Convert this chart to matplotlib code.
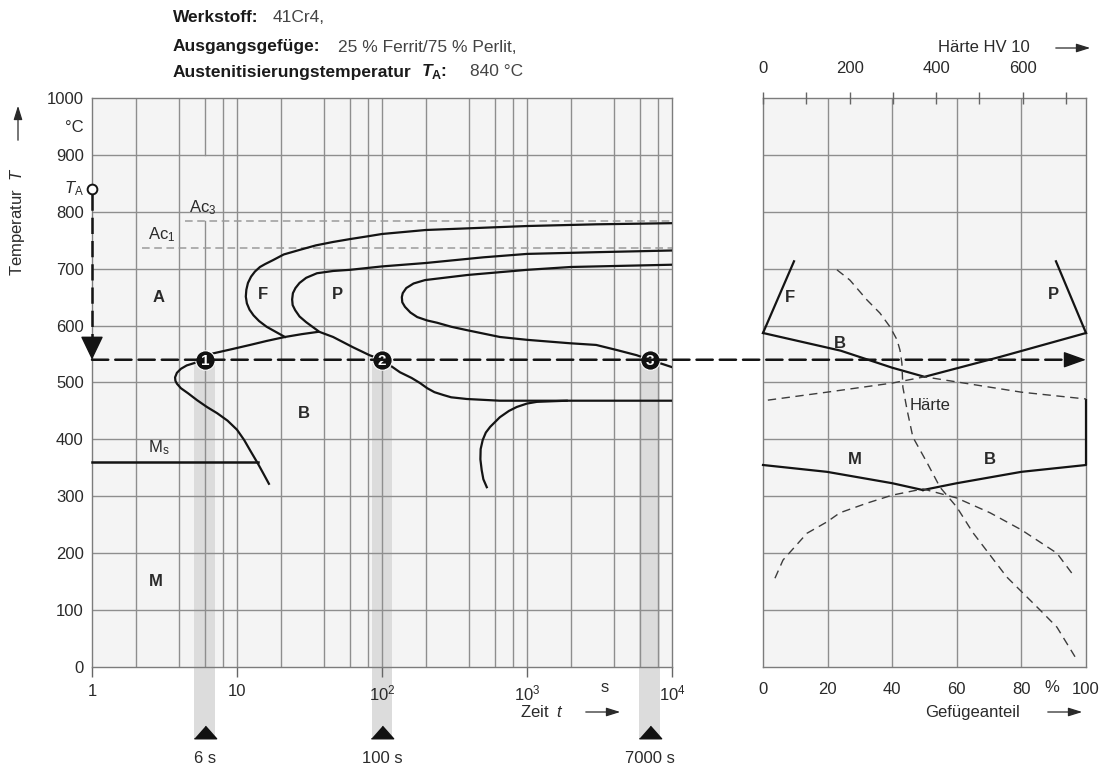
import numpy as np
import matplotlib.pyplot as plt
from matplotlib.patches import Rectangle, ConnectionPatch, FancyArrowPatch
from matplotlib.transforms import blended_transform_factory

plt.rcParams['font.family'] = ['Liberation Sans', 'DejaVu Sans']
plt.rcParams['mathtext.fontset'] = 'custom'
plt.rcParams['mathtext.rm'] = 'Liberation Sans'
plt.rcParams['mathtext.it'] = 'Liberation Sans:italic'
plt.rcParams['mathtext.bf'] = 'Liberation Sans:bold'

W, H = 1110, 767

# Kennwerte 41Cr4
T_A = 840
T_HALTE = 540
AC3 = 784
AC1 = 737
MS = 360
halte_zeiten = [6, 100, 7000]
halte_nr = ['1', '2', '3']

# Ferrit-Beginn (aeussere Nase)
ferrit_t = [10000, 3000, 1000, 500, 200, 100, 80, 60, 46, 35, 27, 21, 17.7, 15.6, 14.4, 13.3,
            12.5, 11.9, 11.6, 11.5, 11.7, 12.2, 13.0, 14.2, 16.0, 18.5, 21.4]
ferrit_T = [780, 778, 775, 772, 768, 761, 757, 752, 747, 741, 733, 725, 715, 708, 703, 695,
            686, 675, 663, 651, 639, 628, 618, 608, 598, 589, 580]

# Bainit-Beginn durch Punkt 1
bainit_t = [36.2, 28, 21.4, 16, 12.3, 9, 6.8, 6.0, 5.2, 4.5, 4.1, 3.85, 3.74, 3.76, 3.85, 4.1,
            4.6, 5.3, 6.2, 7.3, 8.6, 10, 11.2, 12.3, 13.9, 15.2, 16.6]
bainit_T = [589, 585, 580, 573, 566, 558, 551, 541, 535, 530, 524, 517, 509, 503, 498, 490,
            481, 469, 457, 446, 433, 417, 399, 381, 358, 340, 322]

# Perlit-Beginn, unten weiter durch Punkt 2
perlit_t = [10000, 3000, 1000, 500, 200, 100, 60, 46, 35.6, 30, 27, 25.3, 24.3, 24.0, 24.2,
            25.2, 27, 30, 37, 46, 63, 82, 100, 133, 160, 183, 205, 230, 265, 300, 385, 650, 10000]
perlit_T = [732, 729, 726, 720, 710, 704, 698, 696, 692, 684, 675, 666, 657, 646, 636,
            627, 616, 606, 589, 580, 562, 548, 540, 518, 508, 499, 490, 483, 478, 474, 471, 468, 468]

# Bainit-Ende unten rechts
bende_t = [528, 500, 487, 477, 479, 495, 520, 557, 650, 750, 850, 1000, 1170, 1880]
bende_T = [316, 330, 346, 365, 383, 399, 412, 422, 439, 450, 457, 463, 466, 468]

# innere Kurve durch Punkt 3
innen_t = [10000, 2000, 1000, 390, 198, 165, 147, 139, 137, 138, 144, 157, 175, 205, 240, 300,
           385, 650, 1000, 1970, 3000, 4170, 5700, 7000, 10000]
innen_T = [707, 703, 698, 689, 680, 674, 666, 657, 650, 641, 633, 623, 615, 609, 605, 598,
           592, 580, 575, 569, 566, 557, 548, 540, 527]

# Gefuegeanteile (rechtes Diagramm)
f_anteil = [0, 9.6]
f_temp = [587, 713]
p_anteil = [100, 90.7]
p_temp = [587, 713]
b_oben_anteil = [0, 24, 40, 50, 73.4, 100]
b_oben_temp = [587, 556, 526, 510, 545, 587]
m_anteil = [0, 19.8, 40, 49.5]
m_temp = [355, 343, 323, 311]
b_unten_anteil = [49.5, 60, 80, 100, 100]
b_unten_temp = [311, 323, 343, 355, 469]

# Haerteverlaeufe (gestrichelt)
h1_anteil = [22.9, 26.9, 32.2, 36.2, 39.3, 41.5, 42.4, 43.0, 43.3, 44.6, 46.4, 50.8, 54.8, 60, 65, 75.5, 85.8, 91, 96.6]
h1_temp = [698, 680, 645, 622, 598, 575, 557, 534, 492, 452, 404, 359, 316, 281, 236, 158, 100, 70, 18]
h2_anteil = [1.5, 19.8, 40, 50, 60, 80, 100]
h2_temp = [469, 483, 499, 510, 501, 483, 471]
h3_anteil = [3.7, 6.2, 13.6, 19.8, 23.8, 32.2, 40, 49.5, 60, 70.3, 80, 91, 95.6]
h3_temp = [156, 188, 235, 255, 271, 288, 302, 313, 297, 271, 241, 200, 165]

# Achsen und Gitter
zeit_ticks = [1, 10, 100, 1000, 10000]
zeit_labels = ['1', '10', r'$10^2$', r'$10^3$', r'$10^4$']
zeit_gitter = [2, 4, 6, 8, 20, 40, 60, 80, 100, 200, 400, 600, 800, 10, 1000,
               2000, 4000, 6000, 8000]
temp_ticks = [0, 100, 200, 300, 400, 500, 600, 700, 800, 900, 950, 1000]
temp_labels = ['0', '100', '200', '300', '400', '500', '600', '700', '800', '900', '°C', '1000']
temp_gitter = [100, 200, 300, 400, 500, 600, 700, 800, 900]
anteil_ticks = [0, 20, 40, 60, 80, 100]
anteil_labels = ['0', '20', '40', '60', '80', '100']
anteil_gitter = [20, 40, 60, 80]
hv_ticks = [0, 100, 200, 300, 400, 500, 600, 700]
hv_labels = ['0', '', '200', '', '400', '', '600', '']
HV_MAX = 746

bg = '#f4f4f4'
grid_c = '#8e8e8e'
line_c = '#141414'
text_c = '#2a2a2a'


def fpos(x, y):
    """Pixelposition -> Figurkoordinaten"""
    return x / W, 1 - y / H


def fig_arrow(x0, y0, x1, y1):
    arr = FancyArrowPatch(fpos(x0, y0), fpos(x1, y1), transform=fig.transFigure,
                          arrowstyle='-|>,head_length=0.7,head_width=0.22',
                          mutation_scale=12, lw=0.9, color=text_c)
    fig.add_artist(arr)


fig = plt.figure(figsize=(W / 100, H / 100), dpi=100)
ax1 = fig.add_axes([92 / W, 1 - 667 / H, 580 / W, 569 / H])
ax2 = fig.add_axes([763 / W, 1 - 667 / H, 323 / W, 569 / H])

for ax in (ax1, ax2):
    ax.set_facecolor(bg)
    ax.set_ylim(0, 1000)
    for s in ax.spines.values():
        s.set_color('#7c7c7c')
        s.set_linewidth(1.0)
    for v in temp_gitter:
        ax.axhline(v, color=grid_c, lw=1.0, zorder=1)

# --- linkes Diagramm: isothermes ZTU ---
ax1.set_xscale('log')
ax1.set_xlim(1, 1e4)
for t in zeit_gitter:
    if t == 6:
        ax1.plot([t, t], [0, AC3], color=grid_c, lw=1.0, zorder=1)
        ax1.plot([t, t], [900, 1000], color=grid_c, lw=1.0, zorder=1)
    else:
        ax1.axvline(t, color=grid_c, lw=1.0, zorder=1)

ax1.set_xticks(zeit_ticks, zeit_labels)
ax1.xaxis.set_minor_locator(plt.NullLocator())
ax1.tick_params(axis='x', direction='out', length=7, width=1, color='#666666',
                pad=5, labelsize=12, labelcolor=text_c)
ax1.set_yticks(temp_ticks, temp_labels)
ax1.tick_params(axis='y', length=0, pad=6, labelsize=12, labelcolor=text_c)

blend = blended_transform_factory(ax1.transData, ax1.transAxes)
band = 10 ** 0.072
tri = [(-1, -0.565), (1, -0.565), (0, 0.565)]
for t, nr in zip(halte_zeiten, halte_nr):
    ax1.add_patch(Rectangle((t / band, -0.1265), t * band - t / band, T_HALTE / 1000 + 0.1265,
                            transform=blend, facecolor='#dcdcdc', edgecolor='none',
                            zorder=0.5, clip_on=False))
    ax1.plot([t], [-0.115], marker=tri, ms=16, color='#111111', transform=blend, clip_on=False)
    ax1.text(t, -0.16, '%s s' % t, transform=blend, ha='center', va='center',
             fontsize=12, color=text_c)

# Ac-Linien und Ms
ax1.plot([4.4, 1e4], [AC3, AC3], ls=(0, (5, 3)), lw=1.1, color='#9a9a9a', zorder=2)
ax1.plot([2.2, 1e4], [AC1, AC1], ls=(0, (5, 3)), lw=1.1, color='#9a9a9a', zorder=2)
ax1.plot([1, 14], [MS, MS], color=line_c, lw=1.8, zorder=3, clip_on=False)

for xs, ys in [(ferrit_t, ferrit_T), (bainit_t, bainit_T), (perlit_t, perlit_T),
               (bende_t, bende_T), (innen_t, innen_T)]:
    ax1.plot(xs, ys, color=line_c, lw=1.6, zorder=3, solid_joinstyle='round')

# Beschriftung der Gebiete
ax1.text(4.7, 807, r'Ac$_3$', fontsize=12, color=text_c, ha='left', va='center')
ax1.text(2.43, 759, r'Ac$_1$', fontsize=12, color=text_c, ha='left', va='center')
ax1.text(2.43, 385, r'M$_\mathrm{s}$', fontsize=12, color=text_c, ha='left', va='center')
for x, y, s in [(2.9, 650, 'A'), (15.1, 654, 'F'), (49, 654, 'P'), (29, 446, 'B'), (2.76, 150, 'M')]:
    ax1.text(x, y, s, fontsize=12, fontweight='bold', color=text_c, ha='center', va='center')

# Abkuehlung von T_A auf Haltetemperatur
ax1.plot([1, 1], [T_A - 8, T_HALTE + 40], ls=(0, (6.5, 2.8)), lw=1.8, color=line_c,
         zorder=4, clip_on=False)
ax1.annotate('', xy=(1, T_HALTE), xytext=(1, T_HALTE + 36),
             arrowprops=dict(arrowstyle='-|>,head_length=0.75,head_width=0.36', mutation_scale=20,
                             color=line_c, lw=1.0, shrinkA=0, shrinkB=0), zorder=5, annotation_clip=False)
ax1.plot([1], [T_A], 'o', ms=7, mfc='white', mec=line_c, mew=1.4, zorder=6, clip_on=False)
ax1.text(0.88, T_A, r'$T_\mathrm{A}$', fontsize=12, color=text_c, ha='right', va='center')

con = ConnectionPatch(xyA=(1, T_HALTE), coordsA=ax1.transData,
                      xyB=(96, T_HALTE), coordsB=ax2.transData,
                      ls=(0, (6.5, 2.8)), lw=1.8, color=line_c, zorder=4)
fig.add_artist(con)

ax1.plot(halte_zeiten, [T_HALTE] * 3, 'o', ms=14, mfc='#111111', mec='white', mew=0.8,
         zorder=6, clip_on=False)
for t, nr in zip(halte_zeiten, halte_nr):
    ax1.text(t, T_HALTE - 2, nr, fontsize=11, fontweight='bold', color='white',
             ha='center', va='center', zorder=7)

# --- rechtes Diagramm: Gefuegeanteile und Haerte ---
ax2.set_xlim(0, 100)
for p in anteil_gitter:
    ax2.axvline(p, color=grid_c, lw=1.0, zorder=1)
ax2.set_xticks(anteil_ticks, anteil_labels)
ax2.tick_params(axis='x', length=0, pad=11, labelsize=12, labelcolor=text_c)
ax2.set_yticks([])

ax3 = ax2.twiny()
ax3.set_xlim(0, HV_MAX)
ax3.set_xticks(hv_ticks, hv_labels)
ax3.tick_params(axis='x', direction='inout', length=8, width=1, color='#666666',
                pad=12, labelsize=12, labelcolor=text_c)
for s in ax3.spines.values():
    s.set_visible(False)

for xs, ys in [(f_anteil, f_temp), (p_anteil, p_temp), (b_oben_anteil, b_oben_temp),
               (m_anteil, m_temp), (b_unten_anteil, b_unten_temp)]:
    ax2.plot(xs, ys, color=line_c, lw=1.6, zorder=3, clip_on=False, solid_joinstyle='round')
for xs, ys in [(h1_anteil, h1_temp), (h2_anteil, h2_temp), (h3_anteil, h3_temp)]:
    ax2.plot(xs, ys, color='#3c3c3c', lw=1.0, ls=(0, (6, 4)), zorder=3)

ax2.annotate('', xy=(100, T_HALTE), xytext=(93.8, T_HALTE),
             arrowprops=dict(arrowstyle='-|>,head_length=0.7,head_width=0.25', mutation_scale=20,
                             color=line_c, lw=1.0, shrinkA=0, shrinkB=0), zorder=5, annotation_clip=False)

for x, y, s in [(8.4, 650, 'F'), (89.8, 654, 'P'), (23.8, 569, 'B'), (28.5, 364, 'M'), (70.3, 364, 'B')]:
    ax2.text(x, y, s, fontsize=12, fontweight='bold', color=text_c, ha='center', va='center')
ax2.text(51.7, 460, 'Härte', fontsize=12, color=text_c, ha='center', va='center')

# --- Kopf und Achsbeschriftungen ---
kopf = [(18, 'Werkstoff:', 273, '41Cr4,'),
        (47, 'Ausgangsgefüge:', 338, '25 % Ferrit/75 % Perlit,'),
        (72, 'Austenitisierungstemperatur', 470, '840 °C')]
for y, fett, xw, wert in kopf:
    fig.text(*fpos(173, y), fett, fontsize=12.5, fontweight='bold', color='#1a1a1a', va='center')
    fig.text(*fpos(xw, y), wert, fontsize=12.5, color='#444444', va='center')
fig.text(*fpos(422, 72), 'T', fontsize=12.5, fontweight='bold', style='italic', color='#1a1a1a', va='center')
fig.text(*fpos(432, 76), 'A', fontsize=9, fontweight='bold', color='#1a1a1a', va='center')
fig.text(*fpos(440, 72), ':', fontsize=12.5, fontweight='bold', color='#1a1a1a', va='center')

fig.text(*fpos(18, 222), r'Temperatur  $T$', rotation=90, fontsize=12, color=text_c,
         ha='center', va='center')
fig_arrow(18, 143, 18, 103)
fig.text(*fpos(542, 712), r'Zeit  $t$', fontsize=12, color=text_c, ha='center', va='center')
fig_arrow(583, 712, 623, 712)
fig.text(*fpos(605, 688), 's', fontsize=12, color=text_c, ha='center', va='center')
fig.text(*fpos(1052, 687), '%', fontsize=12, color=text_c, ha='center', va='center')
fig.text(*fpos(973, 712), 'Gefügeanteil', fontsize=12, color=text_c, ha='center', va='center')
fig_arrow(1045, 712, 1085, 712)
fig.text(*fpos(984, 48), 'Härte HV 10', fontsize=12, color=text_c, ha='center', va='center')
fig_arrow(1053, 48, 1093, 48)

fig.savefig('out.png', dpi=100, facecolor='white')
